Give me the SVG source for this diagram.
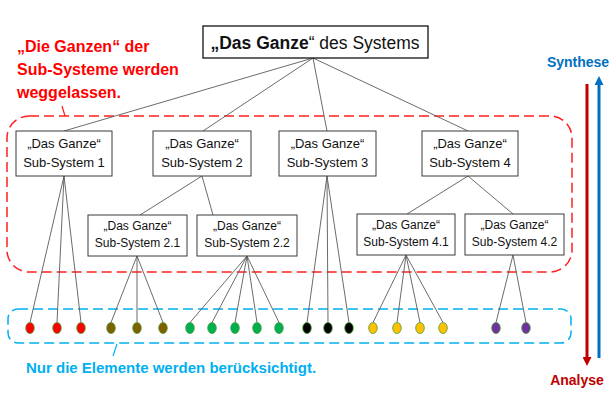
<svg xmlns="http://www.w3.org/2000/svg" width="615" height="406" viewBox="0 0 615 406">
<style>
.box{fill:#ffffff;stroke:#3a3a3a;stroke-width:1}
.t1{font-family:"Liberation Sans",Arial,sans-serif;font-size:13px;fill:#111;text-anchor:middle}
.t2{font-family:"Liberation Sans",Arial,sans-serif;font-size:12px;fill:#111;text-anchor:middle}
.ln{stroke:#5a5a5a;stroke-width:0.9;fill:none}
.dot{stroke:#4a9e3a;stroke-width:0.8}
.note{font-family:"Liberation Sans",Arial,sans-serif;font-weight:bold}
</style>
<defs>
<marker id="ahR" viewBox="0 0 10 10" refX="0" refY="5" markerWidth="9" markerHeight="9" markerUnits="userSpaceOnUse" orient="auto"><path d="M0,0 L10,5 L0,10 z" fill="#C00000"/></marker>
<marker id="ahB" viewBox="0 0 10 10" refX="0" refY="5" markerWidth="9" markerHeight="9" markerUnits="userSpaceOnUse" orient="auto"><path d="M0,0 L10,5 L0,10 z" fill="#0070C0"/></marker>
</defs>
<rect width="615" height="406" fill="#ffffff"/>
<g id="groups">
<rect x="7" y="116" width="565" height="156" rx="22" fill="none" stroke="#FF1F1F" stroke-width="1.5" stroke-dasharray="10 5"/>
<line x1="62" y1="106" x2="65" y2="116" stroke="#FF1F1F" stroke-width="1.2"/>
<rect x="8" y="309" width="563" height="34" rx="10" fill="none" stroke="#00B0F0" stroke-width="1.5" stroke-dasharray="10 5"/>
<line x1="117" y1="344" x2="113" y2="356" stroke="#00B0F0" stroke-width="1.2"/>
</g>
<g id="connectors">
<line class="ln" x1="313" y1="58" x2="64" y2="131"/>
<line class="ln" x1="313" y1="58" x2="203" y2="131"/>
<line class="ln" x1="313" y1="58" x2="327" y2="131"/>
<line class="ln" x1="313" y1="58" x2="468" y2="131"/>
<line class="ln" x1="202" y1="176" x2="140" y2="215"/>
<line class="ln" x1="202" y1="176" x2="213" y2="215"/>
<line class="ln" x1="468" y1="176" x2="407" y2="214"/>
<line class="ln" x1="468" y1="176" x2="513" y2="214"/>
<line class="ln" x1="64" y1="176" x2="30" y2="322.5"/>
<line class="ln" x1="64" y1="176" x2="57" y2="322.5"/>
<line class="ln" x1="64" y1="176" x2="81" y2="322.5"/>
<line class="ln" x1="137" y1="256" x2="111" y2="322.5"/>
<line class="ln" x1="137" y1="256" x2="137" y2="322.5"/>
<line class="ln" x1="137" y1="256" x2="163" y2="322.5"/>
<line class="ln" x1="247" y1="256" x2="190" y2="322.5"/>
<line class="ln" x1="247" y1="256" x2="212" y2="322.5"/>
<line class="ln" x1="247" y1="256" x2="235" y2="322.5"/>
<line class="ln" x1="247" y1="256" x2="257" y2="322.5"/>
<line class="ln" x1="247" y1="256" x2="279" y2="322.5"/>
<line class="ln" x1="327" y1="176" x2="307" y2="322.5"/>
<line class="ln" x1="327" y1="176" x2="328" y2="322.5"/>
<line class="ln" x1="327" y1="176" x2="349" y2="322.5"/>
<line class="ln" x1="406" y1="255" x2="373" y2="322.5"/>
<line class="ln" x1="406" y1="255" x2="397" y2="322.5"/>
<line class="ln" x1="406" y1="255" x2="420" y2="322.5"/>
<line class="ln" x1="406" y1="255" x2="443" y2="322.5"/>
<line class="ln" x1="513" y1="255" x2="496" y2="322.5"/>
<line class="ln" x1="513" y1="255" x2="526" y2="322.5"/>
</g>
<g id="system">
<rect x="203" y="26" width="225" height="32" fill="#ffffff" stroke="#111" stroke-width="1.3"/>
<text x="315" y="49" font-family="'Liberation Sans',Arial,sans-serif" font-size="17.5" fill="#111" text-anchor="middle"><tspan font-weight="bold">„Das Ganze</tspan>“ des Systems</text>
</g>
<g id="sub1">
<rect class="box" x="16" y="131" width="96" height="45"/>
<text class="t1" x="64" y="148">„Das Ganze“</text>
<text class="t1" x="64" y="167">Sub-System 1</text>
</g>
<g id="sub2">
<rect class="box" x="153" y="131" width="98" height="45"/>
<text class="t1" x="202" y="148">„Das Ganze“</text>
<text class="t1" x="202" y="167">Sub-System 2</text>
</g>
<g id="sub3">
<rect class="box" x="279" y="131" width="97" height="45"/>
<text class="t1" x="327.5" y="148">„Das Ganze“</text>
<text class="t1" x="327.5" y="167">Sub-System 3</text>
</g>
<g id="sub4">
<rect class="box" x="422" y="131" width="96" height="45"/>
<text class="t1" x="470" y="148">„Das Ganze“</text>
<text class="t1" x="470" y="167">Sub-System 4</text>
</g>
<g id="sub21">
<rect class="box" x="88" y="215" width="99" height="41"/>
<text class="t2" x="137.5" y="230">„Das Ganze“</text>
<text class="t2" x="137.5" y="247">Sub-System 2.1</text>
</g>
<g id="sub22">
<rect class="box" x="197" y="215" width="100" height="41"/>
<text class="t2" x="247" y="230">„Das Ganze“</text>
<text class="t2" x="247" y="247">Sub-System 2.2</text>
</g>
<g id="sub41">
<rect class="box" x="357" y="214" width="98" height="41"/>
<text class="t2" x="406" y="229">„Das Ganze“</text>
<text class="t2" x="406" y="246">Sub-System 4.1</text>
</g>
<g id="sub42">
<rect class="box" x="465" y="214" width="99" height="41"/>
<text class="t2" x="514.5" y="229">„Das Ganze“</text>
<text class="t2" x="514.5" y="246">Sub-System 4.2</text>
</g>
<g id="elements">
<ellipse class="dot" cx="30" cy="328" rx="4.3" ry="5.5" fill="#FF0000"/>
<ellipse class="dot" cx="57" cy="328" rx="4.3" ry="5.5" fill="#FF0000"/>
<ellipse class="dot" cx="81" cy="328" rx="4.3" ry="5.5" fill="#FF0000"/>
<ellipse class="dot" cx="111" cy="328" rx="4.3" ry="5.5" fill="#7F6000"/>
<ellipse class="dot" cx="137" cy="328" rx="4.3" ry="5.5" fill="#7F6000"/>
<ellipse class="dot" cx="163" cy="328" rx="4.3" ry="5.5" fill="#7F6000"/>
<ellipse class="dot" cx="190" cy="328" rx="4.3" ry="5.5" fill="#00B050"/>
<ellipse class="dot" cx="212" cy="328" rx="4.3" ry="5.5" fill="#00B050"/>
<ellipse class="dot" cx="235" cy="328" rx="4.3" ry="5.5" fill="#00B050"/>
<ellipse class="dot" cx="257" cy="328" rx="4.3" ry="5.5" fill="#00B050"/>
<ellipse class="dot" cx="279" cy="328" rx="4.3" ry="5.5" fill="#00B050"/>
<ellipse class="dot" cx="307" cy="328" rx="4.3" ry="5.5" fill="#000000"/>
<ellipse class="dot" cx="328" cy="328" rx="4.3" ry="5.5" fill="#000000"/>
<ellipse class="dot" cx="349" cy="328" rx="4.3" ry="5.5" fill="#000000"/>
<ellipse class="dot" cx="373" cy="328" rx="4.3" ry="5.5" fill="#FFC000"/>
<ellipse class="dot" cx="397" cy="328" rx="4.3" ry="5.5" fill="#FFC000"/>
<ellipse class="dot" cx="420" cy="328" rx="4.3" ry="5.5" fill="#FFC000"/>
<ellipse class="dot" cx="443" cy="328" rx="4.3" ry="5.5" fill="#FFC000"/>
<ellipse class="dot" cx="496" cy="328" rx="4.3" ry="5.5" fill="#7030A0"/>
<ellipse class="dot" cx="526" cy="328" rx="4.3" ry="5.5" fill="#7030A0"/>
</g>
<g id="notes">
<text class="note" font-size="16" fill="#FF0000"><tspan x="17" y="52">„Die Ganzen“ der</tspan><tspan x="17" y="75">Sub-Systeme werden</tspan><tspan x="17" y="98">weggelassen.</tspan></text>
<text class="note" x="26" y="373" font-size="15" fill="#00B0F0">Nur die Elemente werden berücksichtigt.</text>
</g>
<g id="direction">
<line x1="587" y1="84" x2="587" y2="357" stroke="#C00000" stroke-width="3" marker-end="url(#ahR)"/>
<line x1="599" y1="358" x2="599" y2="85" stroke="#0070C0" stroke-width="3" marker-end="url(#ahB)"/>
<text class="note" x="578" y="67" font-size="14" fill="#0070C0" text-anchor="middle">Synthese</text>
<text class="note" x="577" y="385" font-size="14" fill="#C00000" text-anchor="middle">Analyse</text>
</g>
</svg>
